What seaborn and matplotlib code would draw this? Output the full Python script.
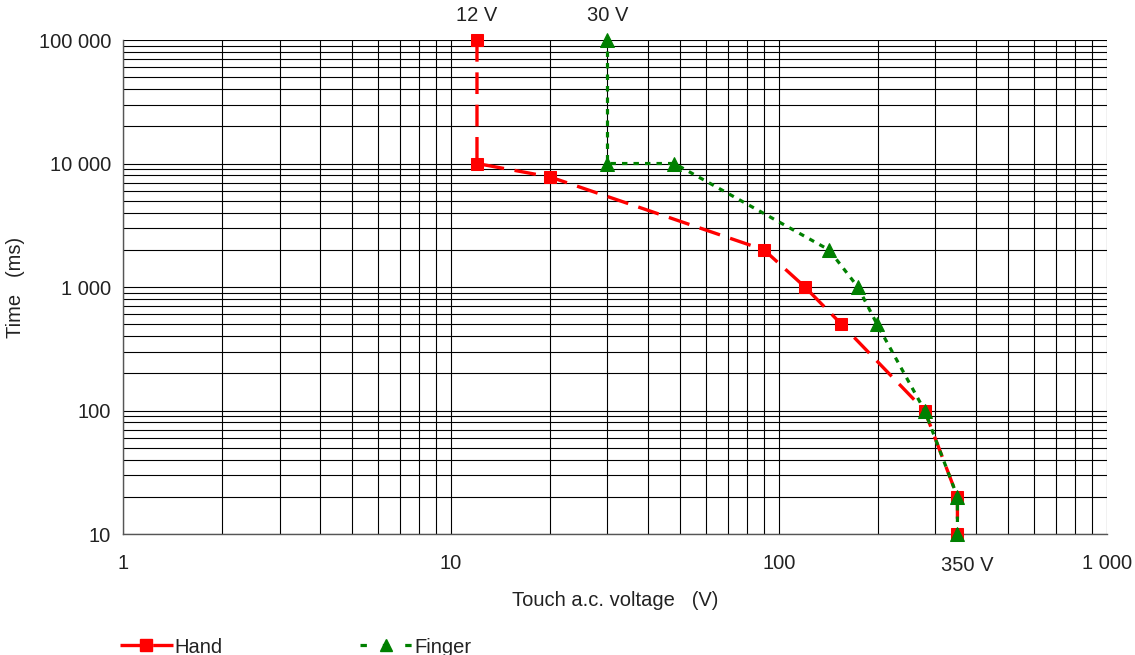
import matplotlib
matplotlib.use("Agg")
import matplotlib.pyplot as plt
import matplotlib.ticker as mticker
from matplotlib.lines import Line2D
import numpy as np
import pandas as pd
import seaborn as sns

# Touch voltage (V) versus permissible contact time (ms)
hand_voltage = [12, 12, 20, 90, 120, 155, 278, 350, 350]
hand_time = [100000, 10000, 7800, 2000, 1000, 500, 100, 20, 10]

finger_voltage = [30, 30, 48, 142, 174, 199, 278, 350, 350]
finger_time = [100000, 10000, 10000, 2000, 1000, 500, 100, 20, 10]

x_ticks = [1, 10, 100, 1000]
x_tick_labels = ["1", "10", "100", "1 000"]
y_ticks = [10, 100, 1000, 10000, 100000]
y_tick_labels = ["10", "100", "1 000", "10 000", "100 000"]

FS = 14.5
TXT = "#222222"

sns.set_theme(style="white")
plt.rcParams["font.family"] = ["Liberation Sans", "DejaVu Sans"]
plt.rcParams["font.size"] = FS

fig = plt.figure(figsize=(11.35, 6.55), dpi=100)
ax = fig.add_axes([0.1084, 0.1847, 0.9753 - 0.1084, 0.9389 - 0.1847])

hand_df = pd.DataFrame({"voltage": hand_voltage, "time": hand_time})
finger_df = pd.DataFrame({"voltage": finger_voltage, "time": finger_time})

red = "#ff0000"
green = "#008000"
hand_dash = [6.5, 3.2]
finger_dash = [1.7, 1.9]

sns.lineplot(data=hand_df, x="voltage", y="time", sort=False, estimator=None,
             ax=ax, color=red, lw=2.4, marker="s", markersize=9,
             markeredgecolor=red, markerfacecolor=red, zorder=4,
             dashes=False, clip_on=False)
ax.lines[-1].set_dashes(hand_dash)

sns.lineplot(data=finger_df, x="voltage", y="time", sort=False, estimator=None,
             ax=ax, color=green, lw=2.3, marker="^", markersize=10,
             markeredgecolor=green, markerfacecolor=green, zorder=5,
             dashes=False, clip_on=False)
ax.lines[-1].set_dashes(finger_dash)

ax.set_xscale("log")
ax.set_yscale("log")
ax.set_xlim(1, 1000)
ax.set_ylim(10, 100000)

ax.xaxis.set_major_locator(mticker.FixedLocator(x_ticks))
ax.xaxis.set_major_formatter(mticker.FixedFormatter(x_tick_labels))
ax.yaxis.set_major_locator(mticker.FixedLocator(y_ticks))
ax.yaxis.set_major_formatter(mticker.FixedFormatter(y_tick_labels))
ax.xaxis.set_minor_locator(mticker.LogLocator(base=10, subs=np.arange(2, 10)))
ax.yaxis.set_minor_locator(mticker.LogLocator(base=10, subs=np.arange(2, 10)))
ax.xaxis.set_minor_formatter(mticker.NullFormatter())
ax.yaxis.set_minor_formatter(mticker.NullFormatter())

ax.grid(True, which="both", color="black", lw=0.8)
ax.set_axisbelow(True)

for side in ["top", "right"]:
    ax.spines[side].set_visible(False)
for side in ["left", "bottom"]:
    ax.spines[side].set_color("#555555")
    ax.spines[side].set_linewidth(1.0)

ax.tick_params(axis="both", which="major", direction="out", length=4.5,
               width=1.0, color="#555555", labelsize=FS, labelcolor=TXT)
ax.tick_params(axis="x", which="major", pad=10)
ax.tick_params(axis="y", which="major", pad=4)
ax.tick_params(axis="both", which="minor", length=0)

ax.set_xlabel("Touch a.c. voltage   (V)", fontsize=FS, color=TXT, labelpad=13)
ax.set_ylabel("Time   (ms)", fontsize=FS, color=TXT, labelpad=10)

# Voltage annotations
for v in (12, 30):
    ax.annotate(f"{v} V", xy=(v, 100000), xytext=(0, 11), textcoords="offset points",
                ha="center", va="bottom", fontsize=FS, color=TXT,
                annotation_clip=False)
ax.annotate("350 V", xy=(350, 10), xytext=(7, -16), textcoords="offset points",
            ha="center", va="top", fontsize=FS, color=TXT,
            annotation_clip=False)

handles = [
    Line2D([], [], color=red, lw=2.4, marker="s", markersize=9, dashes=[9, 0.8]),
    Line2D([], [], color=green, lw=2.3, marker="^", markersize=9, dashes=[2, 5]),
]
fig.legend(handles, ["Hand", "Finger"], loc="lower left",
           bbox_to_anchor=(0.090, -0.030), ncol=2, frameon=False,
           fontsize=FS, handlelength=2.6, handletextpad=0.1,
           columnspacing=6.8, labelcolor=TXT)

fig.savefig("out.png", dpi=100)
